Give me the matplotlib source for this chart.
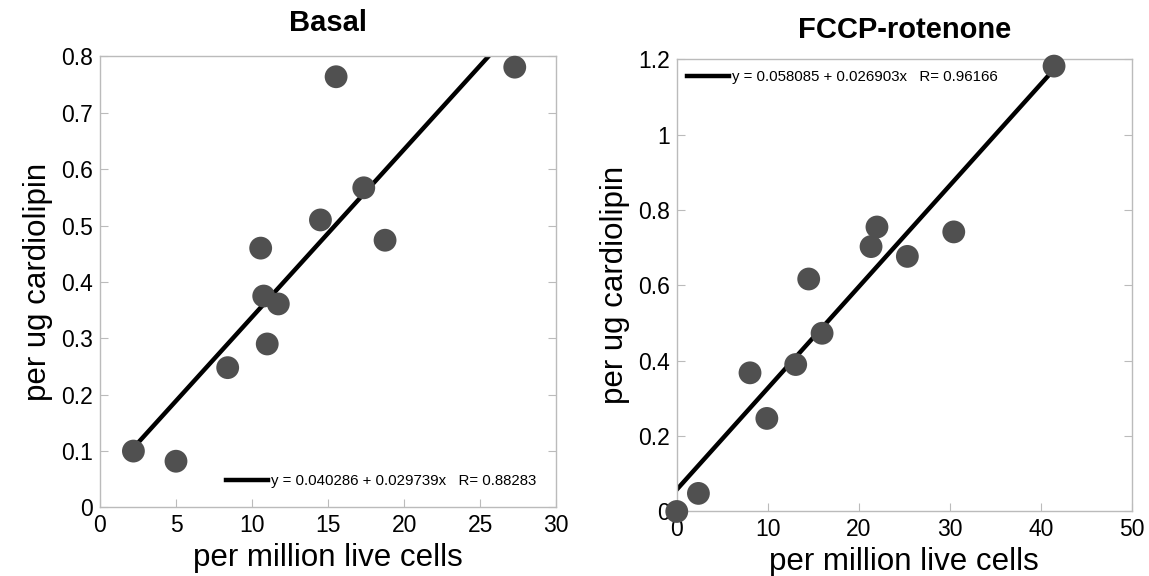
import numpy as np
import matplotlib.pyplot as plt

plt.rcParams['font.family'] = ['Liberation Sans', 'DejaVu Sans']

# --- dados ---
basal_x = [2.2, 5.0, 8.4, 10.57, 10.77, 11.73, 11.0, 14.5, 15.53, 17.35, 18.75, 27.28]
basal_y = [0.100, 0.082, 0.248, 0.460, 0.375, 0.361, 0.290, 0.510, 0.764, 0.567, 0.474, 0.781]
basal_fit = (0.040286, 0.029739, 0.88283)

fccp_x = [0.0, 2.38, 8.05, 9.9, 13.07, 14.5, 15.97, 21.35, 22.0, 25.34, 30.44, 41.46]
fccp_y = [0.0, 0.048, 0.368, 0.247, 0.390, 0.617, 0.473, 0.703, 0.755, 0.677, 0.742, 1.182]
fccp_fit = (0.058085, 0.026903, 0.96166)

basal_xticks = [0, 5, 10, 15, 20, 25, 30]
basal_yticks = [0, 0.1, 0.2, 0.3, 0.4, 0.5, 0.6, 0.7, 0.8]
basal_ylabels = ['0', '0.1', '0.2', '0.3', '0.4', '0.5', '0.6', '0.7', '0.8']
fccp_xticks = [0, 10, 20, 30, 40, 50]
fccp_yticks = [0, 0.2, 0.4, 0.6, 0.8, 1.0, 1.2]
fccp_ylabels = ['0', '0.2', '0.4', '0.6', '0.8', '1', '1.2']

fig = plt.figure(figsize=(11.49, 5.76), dpi=100)
ax1 = fig.add_axes([0.087, 0.119, 0.397, 0.783])
ax2 = fig.add_axes([0.589, 0.112, 0.396, 0.785])


def painel(ax, xs, ys, fit, titulo, xticks, yticks, ylabels, xlim, ylim, loc, bpad, tpad):
    a, b, r = fit
    xl = np.array([min(xs), max(xs)])
    ax.plot(xl, a + b * xl, color='black', lw=3.2, zorder=2,
            label=f'y = {a:.6f} + {b:.6f}x   R= {r:.5f}')
    ax.scatter(xs, ys, s=270, color='#505050', edgecolors='none', zorder=3, clip_on=False)
    ax.set_xlim(*xlim)
    ax.set_ylim(*ylim)
    ax.set_xticks(xticks)
    ax.set_yticks(yticks)
    ax.set_yticklabels(ylabels)
    ax.tick_params(direction='in', length=6, color='#bbbbbb', labelsize=16.5,
                   right=True, top=False, pad=5)
    for s in ax.spines.values():
        s.set_color('#bbbbbb')
        s.set_linewidth(1)
    ax.set_title(titulo, fontsize=21, fontweight='bold', pad=tpad)
    ax.set_xlabel('per million live cells', fontsize=22.5, labelpad=4)
    ax.set_ylabel('per ug cardiolipin', fontsize=22.5, labelpad=6)
    ax.legend(loc=loc, frameon=False, fontsize=10.8, handlelength=2.8,
              handletextpad=0.2, borderaxespad=bpad)


painel(ax1, basal_x, basal_y, basal_fit, 'Basal', basal_xticks, basal_yticks,
       basal_ylabels, (0, 30), (0, 0.8), 'lower right', 0.9, 18)
painel(ax2, fccp_x, fccp_y, fccp_fit, 'FCCP-rotenone', fccp_xticks, fccp_yticks,
       fccp_ylabels, (0, 50), (0, 1.2), 'upper left', 0.3, 15)

fig.savefig('out.png', dpi=100)
